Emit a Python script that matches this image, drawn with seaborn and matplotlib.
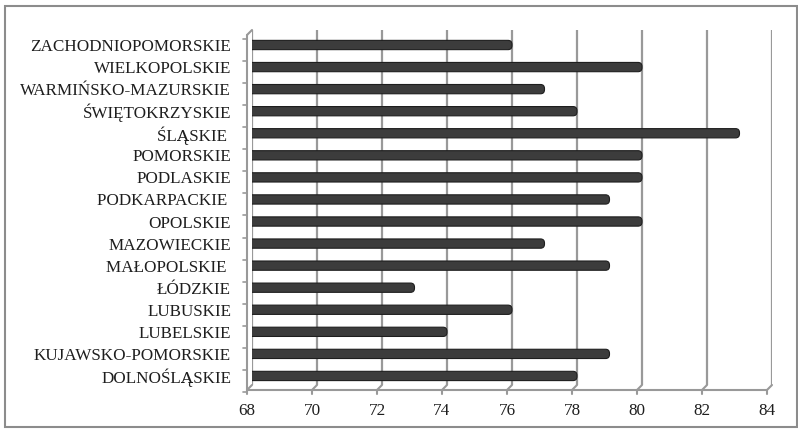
import numpy as np
import pandas as pd
import seaborn as sns
import matplotlib.pyplot as plt
from matplotlib.transforms import offset_copy
from matplotlib.patches import Rectangle, FancyBboxPatch

regions = ["ZACHODNIOPOMORSKIE", "WIELKOPOLSKIE", "WARMIŃSKO-MAZURSKIE", "ŚWIĘTOKRZYSKIE",
           "ŚLĄSKIE ", "POMORSKIE", "PODLASKIE", "PODKARPACKIE ", "OPOLSKIE", "MAZOWIECKIE",
           "MAŁOPOLSKIE ", "ŁÓDZKIE", "LUBUSKIE", "LUBELSKIE", "KUJAWSKO-POMORSKIE", "DOLNOŚLĄSKIE"]
values = [76, 80, 77, 78, 83, 80, 80, 79, 80, 77, 79, 73, 76, 74, 79, 78]
x_ticks = [68, 70, 72, 74, 76, 78, 80, 82, 84]

df = pd.DataFrame({"region": regions, "value": values})

sns.set_style("white")
plt.rcParams["font.family"] = ["Liberation Serif", "DejaVu Serif"]

fig = plt.figure(figsize=(7.98, 4.32), dpi=100)
fig.patches.append(Rectangle((5 / 798, 5 / 432), 792 / 798, 421 / 432, transform=fig.transFigure,
                             fill=False, edgecolor="#8c8c8c", linewidth=1.5))
ax = fig.add_axes([252 / 798, 47 / 432, 520 / 798, 355 / 432])

sns.barplot(data=df, x="value", y="region", orient="h", color="#3c3c3c", width=0.42,
            edgecolor="#1e1e1e", linewidth=0.8, ax=ax, zorder=3)
ax.set_xlim(68, 84)
ax.set_ylim(len(regions) - 1 + 0.41, -0.68)
for s in ax.spines.values():
    s.set_visible(False)

# slightly rounded bar ends
for p in list(ax.patches):
    x, y, w, h = p.get_x(), p.get_y(), p.get_width(), p.get_height()
    p.set_visible(False)
    ax.add_patch(FancyBboxPatch((x, y), w, h, boxstyle="round,pad=0,rounding_size=0.12",
                                mutation_aspect=h / 0.12 / 2.2, facecolor="#3c3c3c",
                                edgecolor="#1e1e1e", linewidth=0.8, zorder=3))

# back wall grid
for v in x_ticks:
    ax.axvline(v, color="#999999", linewidth=1.6, zorder=1)

# front axes, shifted 5px left/down
front = offset_copy(ax.transData, fig=fig, x=-5, y=-5, units="dots")
y0, y1 = ax.get_ylim()
ax.plot([68, 84], [y0, y0], transform=front, color="#999999", lw=1.5, clip_on=False, zorder=2)
ax.plot([68, 68], [y0, y1], transform=front, color="#999999", lw=1.5, clip_on=False, zorder=2)
disp = ax.transData
lab_tr = offset_copy(ax.transData, fig=fig, x=-5, y=-26, units="dots")
for v in x_ticks:
    bx, by = disp.transform((v, y0))
    ax.plot([bx, bx - 5, bx - 5], [by, by - 5, by - 9], transform=None, color="#999999",
            lw=1.5, clip_on=False, zorder=2)
    ax.text(v, y0, str(v), transform=lab_tr, ha="center", va="center",
            fontsize=12.3, color="#1e1e1e")
tx, ty = disp.transform((68, y1))
ax.plot([tx, tx - 5], [ty, ty - 5], transform=None, color="#999999", lw=1.5, clip_on=False)
for k in np.arange(-0.5, len(regions), 1.0):
    bx, by = disp.transform((68, k))
    ax.plot([bx - 5, bx - 9], [by - 5, by - 5], transform=None, color="#999999",
            lw=1.2, clip_on=False)

ax.set_xticks([])
ax.set_yticks(range(len(regions)))
ax.set_yticklabels(regions, fontsize=12.3, color="#1e1e1e")
ax.tick_params(axis="y", length=0, pad=15)
ax.set_xlabel("")
ax.set_ylabel("")

fig.savefig("out.png", dpi=100)
